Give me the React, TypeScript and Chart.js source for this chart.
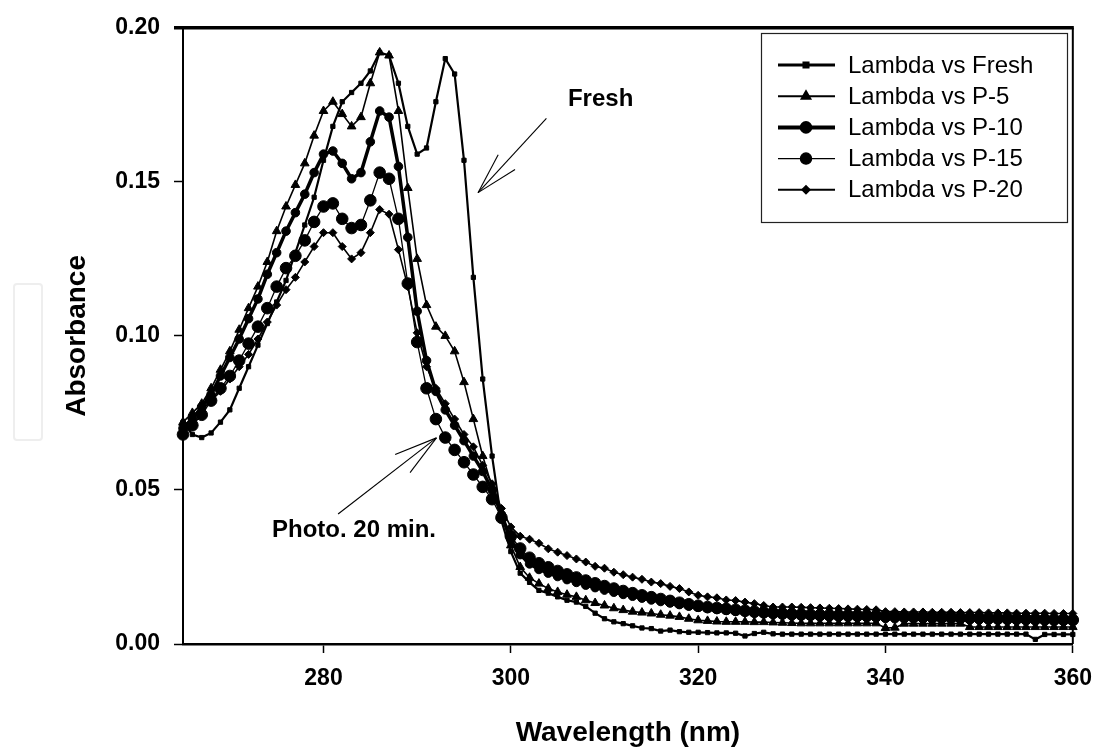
import React, { useEffect, useRef } from "react";
import { Chart, registerables } from "chart.js";
import { drawPoint } from "chart.js/helpers";

Chart.register(...registerables);

const wavelengths = [
  265, 266, 267, 268, 269, 270, 271, 272, 273, 274, 275, 276, 277, 278, 279, 280,
  281, 282, 283, 284, 285, 286, 287, 288, 289, 290, 291, 292, 293, 294, 295, 296,
  297, 298, 299, 300, 301, 302, 303, 304, 305, 306, 307, 308, 309, 310, 311, 312,
  313, 314, 315, 316, 317, 318, 319, 320, 321, 322, 323, 324, 325, 326, 327, 328,
  329, 330, 331, 332, 333, 334, 335, 336, 337, 338, 339, 340, 341, 342, 343, 344,
  345, 346, 347, 348, 349, 350, 351, 352, 353, 354, 355, 356, 357, 358, 359, 360,
];

const freshAbs = [
  0.072, 0.068, 0.067, 0.0685, 0.072, 0.076, 0.083, 0.09, 0.097, 0.104, 0.111, 0.118, 0.127, 0.136, 0.145, 0.157,
  0.168, 0.176, 0.179, 0.182, 0.186, 0.192, 0.191, 0.182, 0.168, 0.159, 0.161, 0.176, 0.19, 0.185, 0.157, 0.119,
  0.086, 0.061, 0.04, 0.03, 0.023, 0.02, 0.0174, 0.0165, 0.0153, 0.0142, 0.0136, 0.0122, 0.01, 0.0082, 0.0072, 0.0066,
  0.0059, 0.0052, 0.005, 0.0042, 0.0045, 0.004, 0.0038, 0.0038, 0.0037, 0.0036, 0.0036, 0.0035, 0.0026, 0.0034, 0.0038, 0.0033,
  0.0032, 0.0032, 0.0032, 0.0032, 0.0032, 0.0032, 0.0032, 0.0032, 0.0032, 0.0032, 0.0032, 0.0032, 0.0032, 0.0032, 0.0032, 0.0032,
  0.0032, 0.0032, 0.0032, 0.0032, 0.0032, 0.0032, 0.0032, 0.0032, 0.0032, 0.0032, 0.0032, 0.0015, 0.0031, 0.0031, 0.0031, 0.0031,
];

const p5Abs = [
  0.072, 0.075, 0.078, 0.083, 0.089, 0.095, 0.102, 0.109, 0.116, 0.124, 0.134, 0.142, 0.149, 0.156, 0.165, 0.173,
  0.176, 0.172, 0.168, 0.171, 0.182, 0.192, 0.191, 0.173, 0.148, 0.125, 0.11, 0.103, 0.1, 0.095, 0.085, 0.073,
  0.061, 0.051, 0.042, 0.032, 0.025, 0.0215, 0.0196, 0.018, 0.0169, 0.016, 0.0153, 0.0142, 0.0133, 0.0125, 0.0116, 0.011,
  0.0105, 0.0102, 0.0099, 0.0095, 0.0092, 0.0088, 0.0082, 0.0077, 0.0075, 0.0073, 0.0072, 0.0072, 0.0072, 0.0071, 0.0071, 0.007,
  0.0069, 0.0068, 0.0067, 0.0067, 0.0067, 0.0067, 0.0067, 0.0067, 0.0067, 0.0067, 0.0067, 0.0052, 0.0053, 0.0066, 0.0066, 0.0066,
  0.0066, 0.0066, 0.0066, 0.0066, 0.0055, 0.0055, 0.0055, 0.0055, 0.0055, 0.0055, 0.0055, 0.0055, 0.0055, 0.0055, 0.0055, 0.0055,
];

const p10Abs = [
  0.07, 0.073, 0.077, 0.081, 0.087, 0.093, 0.099, 0.1056, 0.112, 0.12, 0.127, 0.134, 0.14, 0.146, 0.153, 0.159,
  0.16, 0.156, 0.151, 0.153, 0.163, 0.173, 0.171, 0.155, 0.132, 0.108, 0.092, 0.082, 0.076, 0.071, 0.066, 0.061,
  0.056, 0.05, 0.042, 0.034, 0.029, 0.026, 0.0242, 0.023, 0.0219, 0.0209, 0.02, 0.0191, 0.0183, 0.0175, 0.0168, 0.0161,
  0.0155, 0.0149, 0.0143, 0.0138, 0.0133, 0.0128, 0.0123, 0.0119, 0.0115, 0.0112, 0.0109, 0.0106, 0.0103, 0.01, 0.0098, 0.0096,
  0.0094, 0.0092, 0.0091, 0.009, 0.0089, 0.0088, 0.0088, 0.0087, 0.0086, 0.0085, 0.0085, 0.0083, 0.0082, 0.0082, 0.0081, 0.0081,
  0.008, 0.008, 0.0079, 0.0079, 0.0078, 0.0078, 0.0077, 0.0077, 0.0076, 0.0076, 0.0076, 0.0075, 0.0075, 0.0075, 0.0074, 0.0074,
];

const p15Abs = [
  0.068, 0.071, 0.0744, 0.079, 0.083, 0.087, 0.092, 0.0975, 0.103, 0.109, 0.116, 0.122, 0.126, 0.131, 0.137, 0.142,
  0.143, 0.138, 0.135, 0.136, 0.144, 0.153, 0.151, 0.138, 0.117, 0.098, 0.083, 0.073, 0.067, 0.063, 0.059, 0.055,
  0.051, 0.047, 0.041, 0.035, 0.031, 0.028, 0.0262, 0.0249, 0.0237, 0.0226, 0.0216, 0.0206, 0.0197, 0.0188, 0.018, 0.0172,
  0.0165, 0.0158, 0.0152, 0.0146, 0.014, 0.0134, 0.0129, 0.0124, 0.012, 0.0117, 0.0114, 0.0111, 0.0108, 0.0105, 0.0103, 0.0101,
  0.0099, 0.0097, 0.0096, 0.0095, 0.0094, 0.0094, 0.0093, 0.0093, 0.0092, 0.0092, 0.0091, 0.009, 0.009, 0.0089, 0.0089, 0.0088,
  0.0088, 0.0087, 0.0087, 0.0086, 0.0085, 0.0085, 0.0084, 0.0083, 0.0083, 0.0082, 0.0081, 0.0081, 0.008, 0.0079, 0.0079, 0.0078,
];

const p20Abs = [
  0.071, 0.073, 0.076, 0.079, 0.082, 0.086, 0.09, 0.094, 0.099, 0.1045, 0.11, 0.115, 0.119, 0.124, 0.129, 0.1335,
  0.1335, 0.129, 0.125, 0.127, 0.1335, 0.141, 0.1395, 0.128, 0.116, 0.101, 0.09, 0.083, 0.078, 0.073, 0.068, 0.064,
  0.058, 0.052, 0.044, 0.038, 0.035, 0.034, 0.0327, 0.0309, 0.0298, 0.0287, 0.0276, 0.0266, 0.0252, 0.0246, 0.0233, 0.0225,
  0.0217, 0.021, 0.0201, 0.0196, 0.0187, 0.018, 0.0169, 0.0158, 0.0153, 0.015, 0.0143, 0.0141, 0.0136, 0.0131, 0.0125, 0.012,
  0.012, 0.012, 0.0119, 0.0118, 0.0117, 0.0116, 0.0115, 0.0114, 0.0113, 0.0112, 0.0111, 0.0105, 0.0105, 0.0104, 0.0104, 0.0104,
  0.0103, 0.0103, 0.0103, 0.0102, 0.0102, 0.0102, 0.0101, 0.0101, 0.0101, 0.01, 0.01, 0.01, 0.01, 0.0099, 0.0099, 0.0099,
];

const seriesNames = [
  "Lambda vs Fresh",
  "Lambda vs P-5",
  "Lambda vs P-10",
  "Lambda vs P-15",
  "Lambda vs P-20",
];

const xTickValues = [280, 300, 320, 340, 360];
const yTickValues = [0, 0.05, 0.1, 0.15, 0.2];

const xAxisTitle = "Wavelength (nm)";
const yAxisTitle = "Absorbance";

const freshNote = "Fresh";
const photoNote = "Photo. 20 min.";

const FONT = "'Liberation Sans', Arial, sans-serif";

const styles = [
  { lineWidth: 2.2, pointStyle: "rect", radius: 3, legendLine: 2.8, legendRadius: 3 },
  { lineWidth: 1.6, pointStyle: "triangle", radius: 5, legendLine: 2, legendRadius: 5 },
  { lineWidth: 3.5, pointStyle: "circle", radius: 4.3, legendLine: 4, legendRadius: 4.3 },
  { lineWidth: 1.3, pointStyle: "circle", radius: 5.8, legendLine: 1.3, legendRadius: 5.6 },
  { lineWidth: 1.6, pointStyle: "rectRot", radius: 4, legendLine: 2, legendRadius: 3.6 },
];

const seriesValues = [freshAbs, p5Abs, p10Abs, p15Abs, p20Abs];

const overlayPlugin = {
  id: "overlay",
  afterDraw(chart: any) {
    const { ctx, chartArea } = chart;
    const { left, right, top, bottom } = chartArea;
    const xs = chart.scales.x;
    const ys = chart.scales.y;
    ctx.save();
    ctx.strokeStyle = "#000";
    // top frame (thick) and right frame
    ctx.lineWidth = 3.5;
    ctx.beginPath();
    ctx.moveTo(left - 9, top);
    ctx.lineTo(right + 1, top);
    ctx.stroke();
    ctx.lineWidth = 2;
    ctx.beginPath();
    ctx.moveTo(right, top);
    ctx.lineTo(right, bottom);
    ctx.stroke();

    // legend
    const bx = 761, by = 33, bw = 306, bh = 189;
    ctx.fillStyle = "#fff";
    ctx.fillRect(bx, by, bw, bh);
    ctx.lineWidth = 1.2;
    ctx.strokeStyle = "#222";
    ctx.strokeRect(bx + 0.5, by + 0.5, bw, bh);
    ctx.font = `24px ${FONT}`;
    ctx.textBaseline = "middle";
    ctx.textAlign = "left";
    chart.data.datasets.forEach((ds: any, i: number) => {
      const rowY = 65 + i * 31.2;
      const st = styles[i];
      ctx.strokeStyle = "#000";
      ctx.lineWidth = st.legendLine;
      ctx.beginPath();
      ctx.moveTo(778, rowY);
      ctx.lineTo(835, rowY);
      ctx.stroke();
      ctx.fillStyle = "#000";
      drawPoint(ctx, { pointStyle: st.pointStyle, radius: st.legendRadius, rotation: 0, borderWidth: 1 }, 806, rowY);
      ctx.fillStyle = "#000";
      ctx.fillText(ds.label, 848, rowY + 1);
    });

    // annotations in data coordinates
    const P = (x: number, y: number) => [xs.getPixelForValue(x), ys.getPixelForValue(y)];
    const line = (a: number[], b: number[]) => {
      ctx.beginPath();
      ctx.moveTo(a[0], a[1]);
      ctx.lineTo(b[0], b[1]);
      ctx.stroke();
    };
    ctx.strokeStyle = "#000";
    ctx.lineWidth = 1.1;
    const fTip = P(296.5, 0.1465);
    line(P(303.8, 0.1706), fTip);
    line(P(298.65, 0.1588), fTip);
    line(P(300.45, 0.154), fTip);
    const pTip = P(292.06, 0.0669);
    line(P(281.56, 0.0422), pTip);
    line(P(287.65, 0.0615), pTip);
    line(P(289.24, 0.0556), pTip);

    ctx.font = `bold 24px ${FONT}`;
    ctx.textBaseline = "alphabetic";
    ctx.fillStyle = "#000";
    const fl = P(306.1, 0.1746);
    ctx.fillText(freshNote, fl[0], fl[1]);
    const pl = P(274.5, 0.0346);
    ctx.fillText(photoNote, pl[0], pl[1]);
    ctx.restore();
  },
};

export default function App() {
  const canvasRef = useRef<HTMLCanvasElement | null>(null);

  useEffect(() => {
    if (!canvasRef.current) return;
    const datasets = seriesValues.map((vals, i) => ({
      label: seriesNames[i],
      data: wavelengths.map((w, k) => ({ x: w, y: vals[k] })),
      borderColor: "#000",
      backgroundColor: "#000",
      borderWidth: styles[i].lineWidth,
      pointStyle: styles[i].pointStyle,
      pointRadius: styles[i].radius,
      pointBorderWidth: 1,
      pointBackgroundColor: "#000",
      pointBorderColor: "#000",
      tension: 0,
      clip: false,
    }));
    const chart = new Chart(canvasRef.current, {
      type: "line",
      data: { datasets } as any,
      options: {
        responsive: false,
        animation: false,
        devicePixelRatio: 1,
        layout: { padding: { top: 24, right: 22, left: 0, bottom: 0 } },
        plugins: { legend: { display: false }, tooltip: { enabled: false } },
        scales: {
          x: {
            type: "linear",
            min: 265,
            max: 360,
            afterFit: (s: any) => {
              s.height = 103;
            },
            afterBuildTicks: (s: any) => {
              s.ticks = xTickValues.map((v) => ({ value: v }));
            },
            ticks: {
              color: "#000",
              font: { family: FONT, size: 23, weight: "bold" },
              padding: 12,
              maxRotation: 0,
              callback: (v: any) => String(v),
            },
            grid: {
              drawOnChartArea: false,
              drawTicks: true,
              tickLength: 9,
              tickWidth: 1.5,
              tickColor: "#000",
            },
            border: { display: true, color: "#000", width: 2.5 },
            title: {
              display: true,
              text: xAxisTitle,
              color: "#000",
              font: { family: FONT, size: 28, weight: "bold", lineHeight: 1 },
              padding: { top: 0, bottom: 0 },
            },
          },
          y: {
            type: "linear",
            min: 0,
            max: 0.2,
            afterFit: (s: any) => {
              s.width = 183;
            },
            afterBuildTicks: (s: any) => {
              s.ticks = yTickValues.map((v) => ({ value: v }));
            },
            ticks: {
              color: "#000",
              font: { family: FONT, size: 23, weight: "bold" },
              padding: 14,
              callback: (v: any) => Number(v).toFixed(2),
            },
            grid: {
              drawOnChartArea: false,
              drawTicks: true,
              tickLength: 9,
              tickWidth: 1.5,
              tickColor: "#000",
            },
            border: { display: true, color: "#000", width: 2 },
            title: {
              display: true,
              text: yAxisTitle,
              color: "#000",
              font: { family: FONT, size: 28, weight: "bold", lineHeight: 1 },
              padding: { top: 63, bottom: 0 },
            },
          },
        },
      } as any,
      plugins: [overlayPlugin],
    });
    return () => chart.destroy();
  }, []);

  return (
    <div style={{ position: "absolute", left: 0, top: 0, width: 1104, height: 747, background: "#fff" }}>
      <canvas ref={canvasRef} width={1104} height={747} style={{ display: "block" }} />
      <div
        style={{
          position: "absolute",
          left: 13,
          top: 283,
          width: 30,
          height: 158,
          border: "2px solid #eeeeee",
          borderRadius: 4,
          boxSizing: "border-box",
        }}
      />
    </div>
  );
}
